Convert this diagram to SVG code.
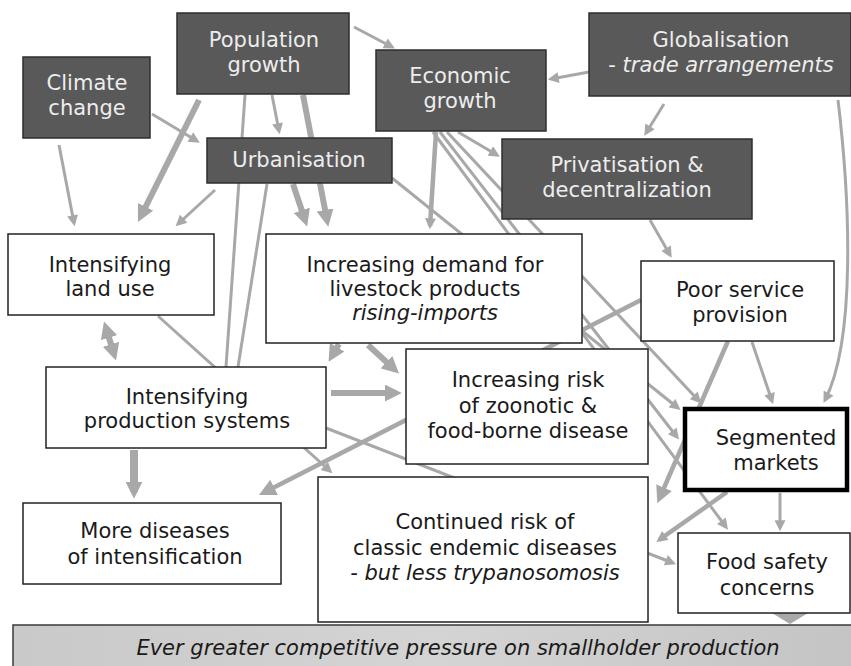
<svg xmlns="http://www.w3.org/2000/svg" width="851" height="666" viewBox="0 0 851 666">
  <defs>
    <marker id="ah" viewBox="0 0 10 10" refX="7" refY="5" markerWidth="12" markerHeight="11" markerUnits="userSpaceOnUse" orient="auto">
      <path d="M0,0 L10,5 L0,10 z" fill="#a8a8a8"/>
    </marker>
    <marker id="ahL" viewBox="0 0 10 10" refX="6" refY="5" markerWidth="17" markerHeight="17" markerUnits="userSpaceOnUse" orient="auto-start-reverse">
      <path d="M0,0 L10,5 L0,10 z" fill="#a8a8a8"/>
    </marker>
    <linearGradient id="barFill" x1="0" y1="0" x2="1" y2="0">
      <stop offset="0" stop-color="#c9c9c9"/>
      <stop offset="0.5" stop-color="#d4d4d4"/>
      <stop offset="1" stop-color="#c4c4c4"/>
    </linearGradient>
  </defs>
  <style>
    text { font-family: "DejaVu Sans", Verdana, sans-serif; font-size: 21px; text-anchor: middle; }
    .dark rect { fill: #595959; stroke: #2e2e2e; stroke-width: 1.5; }
    .dark text { fill: #ededed; }
    .light rect { fill: #ffffff; stroke: #222222; stroke-width: 1.5; }
    .light text { fill: #1a1a1a; }
    .it { font-style: italic; }
    #connectors path { fill: none; stroke: #a8a8a8; stroke-linecap: butt; }
    .c { stroke-width: 3; }
    .m { stroke-width: 4.5; }
    .t { stroke-width: 6; }
  </style>

  <rect width="851" height="666" fill="#ffffff"/>

  <g id="connectors">
    <!-- thin links -->
    <path class="c" d="M354,27 L392,47" marker-end="url(#ah)"/>
    <path class="c" d="M589,72 L551,79" marker-end="url(#ah)"/>
    <path class="c" d="M664,104 L646,133" marker-end="url(#ah)"/>
    <path class="c" d="M838,100 C850,200 856,340 825,400" marker-end="url(#ah)"/>
    <path class="c" d="M152,114 L197,141" marker-end="url(#ah)"/>
    <path class="c" d="M59,145 L74,223" marker-end="url(#ah)"/>
    <path class="c" d="M215,190 L178,224" marker-end="url(#ah)"/>
    <path class="c" d="M272,95 L279,131" marker-end="url(#ah)"/>
    <path class="c" d="M245,95 L226,367"/>
    <path class="c" d="M267,184 L238,367"/>
    <path class="m" d="M436,132 L430,226" marker-end="url(#ah)"/>
    <path class="c" d="M458,132 L497,155" marker-end="url(#ah)"/>
    <path class="c" d="M447,132 L699,401" marker-end="url(#ah)"/>
    <path class="c" d="M440,132 L677,437" marker-end="url(#ah)"/>
    <path class="c" d="M433,132 L726,527" marker-end="url(#ah)"/>
    <path class="c" d="M392,178 L678,408" marker-end="url(#ah)"/>
    <path class="c" d="M650,220 L670,255" marker-end="url(#ah)"/>
    <path class="c" d="M752,342 L772,401" marker-end="url(#ah)"/>
    <path class="c" d="M780,493 L780,528" marker-end="url(#ah)"/>
    <path class="c" d="M158,316 L330,471" marker-end="url(#ah)"/>
    <path class="c" d="M326,428 L673,563" marker-end="url(#ah)"/>
    <!-- heavy links -->
    <path class="t" d="M199,100 L141,216" marker-end="url(#ahL)"/>
    <path class="t" d="M303,95 L327,220" marker-end="url(#ahL)"/>
    <path class="t" d="M293,184 L305,220" marker-end="url(#ahL)"/>
    <path class="t" d="M339,344 L332,356" marker-end="url(#ahL)"/>
    <path class="t" d="M368,345 L394,369" marker-end="url(#ahL)"/>
    <path class="t" d="M331,393 L395,393" marker-end="url(#ahL)"/>
    <path class="t" d="M134,450 L134,492" marker-end="url(#ahL)" style="stroke-width:8"/>
    <path class="m" d="M641,300 L265,492" marker-end="url(#ahL)"/>
    <path class="m" d="M728,341 L660,497" marker-end="url(#ahL)"/>
    <path class="m" d="M727,492 L659,540" marker-end="url(#ah)"/>
    <path class="t" d="M106,328 L114,354" marker-start="url(#ahL)" marker-end="url(#ahL)"/>
    <path d="M772,613 L808,613 L790,624 z" style="fill:#a8a8a8;stroke:none"/>
  </g>

  <!-- drivers -->
  <g id="climate" class="dark">
    <rect x="23" y="57" width="127" height="81"/>
    <text x="87" y="90">Climate</text>
    <text x="87" y="115">change</text>
  </g>
  <g id="population" class="dark">
    <rect x="177" y="13" width="172" height="81"/>
    <text x="264" y="47">Population</text>
    <text x="264" y="72">growth</text>
  </g>
  <g id="economic" class="dark">
    <rect x="376" y="50" width="170" height="81"/>
    <text x="460" y="83">Economic</text>
    <text x="460" y="108">growth</text>
  </g>
  <g id="globalisation" class="dark">
    <rect x="589" y="13" width="262" height="83"/>
    <text x="721" y="47">Globalisation</text>
    <text x="721" y="72">- <tspan class="it">trade arrangements</tspan></text>
  </g>
  <g id="urbanisation" class="dark">
    <rect x="207" y="138" width="185" height="45"/>
    <text x="299" y="167">Urbanisation</text>
  </g>
  <g id="privatisation" class="dark">
    <rect x="502" y="139" width="250" height="80"/>
    <text x="627" y="172">Privatisation &amp;</text>
    <text x="627" y="197">decentralization</text>
  </g>

  <!-- effects -->
  <g id="land-use" class="light">
    <rect x="8" y="234" width="206" height="81"/>
    <text x="110" y="272">Intensifying</text>
    <text x="110" y="296">land use</text>
  </g>
  <g id="demand" class="light">
    <rect x="266" y="234" width="316" height="109"/>
    <text x="425" y="272">Increasing demand for</text>
    <text x="425" y="296">livestock products</text>
    <text x="425" y="320" class="it">rising-imports</text>
  </g>
  <g id="poor-service" class="light">
    <rect x="641" y="261" width="193" height="80"/>
    <text x="740" y="297">Poor service</text>
    <text x="740" y="322">provision</text>
  </g>
  <g id="production" class="light">
    <rect x="46" y="367" width="280" height="81"/>
    <text x="187" y="404">Intensifying</text>
    <text x="187" y="428">production systems</text>
  </g>
  <g id="zoonotic-risk" class="light">
    <rect x="406" y="349" width="242" height="115"/>
    <text x="528" y="387">Increasing risk</text>
    <text x="528" y="413">of zoonotic &amp;</text>
    <text x="528" y="438">food-borne disease</text>
  </g>
  <g id="segmented" class="light">
    <rect x="685" y="409" width="162" height="81" style="stroke:#000;stroke-width:4.5"/>
    <text x="776" y="445">Segmented</text>
    <text x="776" y="470">markets</text>
  </g>
  <g id="more-diseases" class="light">
    <rect x="23" y="503" width="258" height="81"/>
    <text x="155" y="538">More diseases</text>
    <text x="155" y="564">of intensification</text>
  </g>
  <g id="endemic-risk" class="light">
    <rect x="318" y="477" width="330" height="145"/>
    <text x="485" y="529">Continued risk of</text>
    <text x="485" y="555">classic endemic diseases</text>
    <text x="485" y="580" class="it">- but less trypanosomosis</text>
  </g>
  <g id="food-safety" class="light">
    <rect x="678" y="533" width="172" height="80"/>
    <text x="767" y="569">Food safety</text>
    <text x="767" y="595">concerns</text>
  </g>

  <!-- outcome bar -->
  <g id="outcome">
    <rect x="13" y="625" width="845" height="50" fill="url(#barFill)" stroke="#3a3a3a" stroke-width="1.5"/>
    <text x="458" y="655" class="it" fill="#1a1a1a">Ever greater competitive pressure on smallholder production</text>
  </g>
</svg>
